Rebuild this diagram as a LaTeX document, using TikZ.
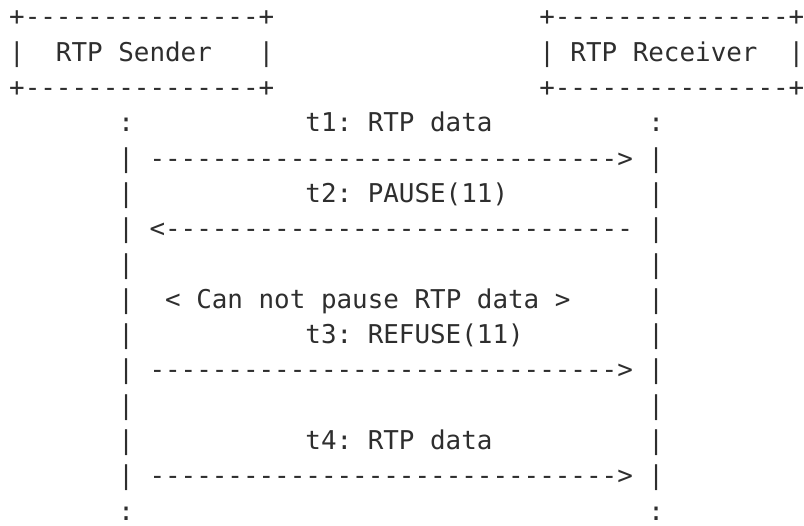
\documentclass[tikz,border=0pt]{standalone}
\usepackage{fontspec}
\setmonofont{DejaVu Sans Mono}
\definecolor{ink}{HTML}{2E2E2E}
\newcommand\asciiseg[4]{\node[txt] (#1) at ({9.2+#2*15.59},{26+(#3-1)*35.3}) {#4};}
\begin{document}
\begin{tikzpicture}[x=1pt,y=-1pt,
  txt/.style={anchor=base west, inner sep=0pt, outer sep=0pt, text=ink,
    font=\ttfamily\fontsize{25.9}{35.5}\selectfont}]
\useasboundingbox (0,0) rectangle (804,526);
% boxes
\asciiseg{sTop}{0}{1}{+---------------+}
\asciiseg{sL}{0}{2}{|}
\asciiseg{sName}{3}{2}{RTP Sender}
\asciiseg{sR}{16}{2}{|}
\asciiseg{sBot}{0}{3}{+---------------+}
\asciiseg{rTop}{34}{1}{+---------------+}
\asciiseg{rL}{34}{2}{|}
\asciiseg{rName}{36}{2}{RTP Receiver}
\asciiseg{rR}{50}{2}{|}
\asciiseg{rBot}{34}{3}{+---------------+}
% row 4
\asciiseg{l4}{7}{4}{:}
\asciiseg{m1}{19}{4}{t1: RTP data}
\asciiseg{r4}{41}{4}{:}
% row 5
\asciiseg{l5}{7}{5}{|}
\asciiseg{a1}{9}{5}{------------------------------>}
\asciiseg{r5}{41}{5}{|}
% row 6
\asciiseg{l6}{7}{6}{|}
\asciiseg{m2}{19}{6}{t2: PAUSE(11)}
\asciiseg{r6}{41}{6}{|}
% row 7
\asciiseg{l7}{7}{7}{|}
\asciiseg{a2}{9}{7}{<------------------------------}
\asciiseg{r7}{41}{7}{|}
% row 8
\asciiseg{l8}{7}{8}{|}
\asciiseg{r8}{41}{8}{|}
% row 9
\asciiseg{l9}{7}{9}{|}
\asciiseg{note}{10}{9}{< Can not pause RTP data >}
\asciiseg{r9}{41}{9}{|}
% row 10
\asciiseg{l10}{7}{10}{|}
\asciiseg{m3}{19}{10}{t3: REFUSE(11)}
\asciiseg{r10}{41}{10}{|}
% row 11
\asciiseg{l11}{7}{11}{|}
\asciiseg{a3}{9}{11}{------------------------------>}
\asciiseg{r11}{41}{11}{|}
% row 12
\asciiseg{l12}{7}{12}{|}
\asciiseg{r12}{41}{12}{|}
% row 13
\asciiseg{l13}{7}{13}{|}
\asciiseg{m4}{19}{13}{t4: RTP data}
\asciiseg{r13}{41}{13}{|}
% row 14
\asciiseg{l14}{7}{14}{|}
\asciiseg{a4}{9}{14}{------------------------------>}
\asciiseg{r14}{41}{14}{|}
% row 15
\asciiseg{l15}{7}{15}{:}
\asciiseg{r15}{41}{15}{:}
\end{tikzpicture}
\end{document}
